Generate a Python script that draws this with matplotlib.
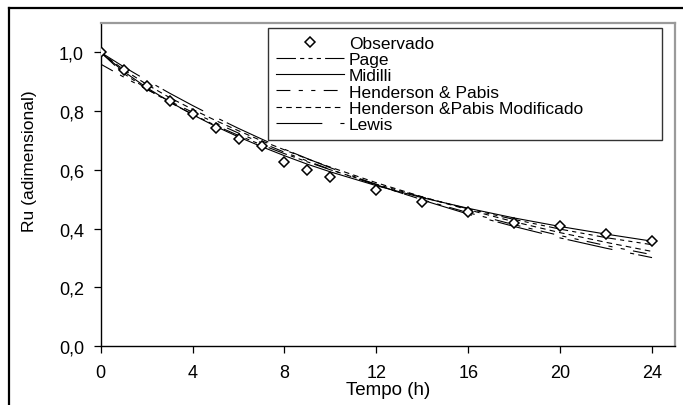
import matplotlib
matplotlib.use("Agg")
import matplotlib.pyplot as plt
from matplotlib.lines import Line2D
from matplotlib.ticker import FuncFormatter

plt.rcParams['font.family'] = ['Liberation Sans', 'DejaVu Sans']
plt.rcParams['lines.scale_dashes'] = False

# Time (h)
tempo = [0, 1, 2, 3, 4, 5, 6, 7, 8, 9, 10, 12, 14, 16, 18, 20, 22, 24]

# Observed moisture ratio
observado = [1.000, 0.940, 0.886, 0.835, 0.789, 0.743, 0.704, 0.682, 0.627,
             0.601, 0.574, 0.532, 0.490, 0.458, 0.420, 0.409, 0.382, 0.357]

# Model curves
page = [1.000, 0.928, 0.876, 0.830, 0.789, 0.751, 0.717, 0.685, 0.655,
        0.627, 0.600, 0.551, 0.507, 0.467, 0.431, 0.398, 0.369, 0.345]
midilli = [1.000, 0.935, 0.880, 0.832, 0.788, 0.748, 0.712, 0.679, 0.648,
           0.619, 0.593, 0.546, 0.505, 0.469, 0.436, 0.407, 0.381, 0.357]
henderson = [0.960, 0.916, 0.874, 0.834, 0.796, 0.760, 0.725, 0.692, 0.660,
             0.630, 0.601, 0.548, 0.498, 0.454, 0.413, 0.376, 0.342, 0.311]
henderson_mod = [1.000, 0.941, 0.891, 0.846, 0.806, 0.768, 0.733, 0.699, 0.668,
                 0.637, 0.609, 0.556, 0.508, 0.464, 0.423, 0.386, 0.353, 0.322]
lewis = [1.000, 0.951, 0.905, 0.861, 0.819, 0.779, 0.741, 0.705, 0.670,
         0.638, 0.607, 0.549, 0.497, 0.449, 0.407, 0.368, 0.333, 0.301]

x_ticks = [0, 4, 8, 12, 16, 20, 24]
y_ticks = [0.0, 0.2, 0.4, 0.6, 0.8, 1.0]

W, H = 683, 406
fig = plt.figure(figsize=(W / 100, H / 100), dpi=100)

# outer frame: only left and top edges are visible in the image
fig.add_artist(Line2D([9 / W, 9 / W], [0, (H - 9) / H], transform=fig.transFigure,
                      color='black', linewidth=1.6))
fig.add_artist(Line2D([9 / W, 1], [(H - 9) / H, (H - 9) / H], transform=fig.transFigure,
                      color='black', linewidth=1.6))

ax = fig.add_axes([100.7 / W, (H - 347) / H, (675 - 100.7) / W, (347 - 24) / H])

lw = 0.8
ax.plot(tempo, observado, linestyle='none', marker='D', markersize=5.5,
        markerfacecolor='white', markeredgecolor='black', markeredgewidth=1.1,
        label='Observado', zorder=5)
ax.plot(tempo, page, color='black', lw=lw, linestyle=(0, (14, 3, 3, 3, 3, 3, 3, 3)),
        label='Page')
ax.plot(tempo, midilli, color='black', lw=lw, linestyle='-', label='Midilli')
ax.plot(tempo, henderson, color='black', lw=lw, linestyle=(0, (10, 6, 3, 6, 3, 6)),
        label='Henderson & Pabis')
ax.plot(tempo, henderson_mod, color='black', lw=lw, linestyle=(0, (4, 3)),
        label='Henderson &Pabis Modificado')
ax.plot(tempo, lewis, color='black', lw=lw, linestyle=(0, (33, 13, 3, 3)),
        label='Lewis')

ax.set_xlim(0, 25)
ax.set_ylim(0, 1.1)
ax.set_xticks(x_ticks)
ax.set_yticks(y_ticks)
ax.yaxis.set_major_formatter(FuncFormatter(lambda v, p: f"{v:.1f}".replace('.', ',')))
ax.tick_params(direction='out', length=5, width=0.9, pad=7, labelsize=13, colors='black')
ax.tick_params(axis='x', pad=8)

for s in ['left', 'bottom']:
    ax.spines[s].set_color('black')
    ax.spines[s].set_linewidth(1.0)
for s in ['top', 'right']:
    ax.spines[s].set_color('#9a9a9a')
    ax.spines[s].set_linewidth(1.6)

ax.set_xlabel('Tempo (h)', fontsize=13.5, labelpad=0)
ax.set_ylabel('Ru (adimensional)', fontsize=12.5)
ax.yaxis.set_label_coords((37 - 100.7) / 574.3, (347 - 161) / 323)

leg = ax.legend(loc='upper left',
                bbox_to_anchor=(268 / W, (H - 140) / H, (662 - 268) / W, (140 - 29) / H),
                bbox_transform=fig.transFigure, borderaxespad=0, mode='expand',
                fontsize=12.5, handlelength=3.9, handletextpad=0.3,
                labelspacing=0.06, borderpad=0.45, frameon=True,
                fancybox=False, framealpha=1, edgecolor='#333333')
leg.get_frame().set_linewidth(1.0)

fig.savefig('out.png', dpi=100)
